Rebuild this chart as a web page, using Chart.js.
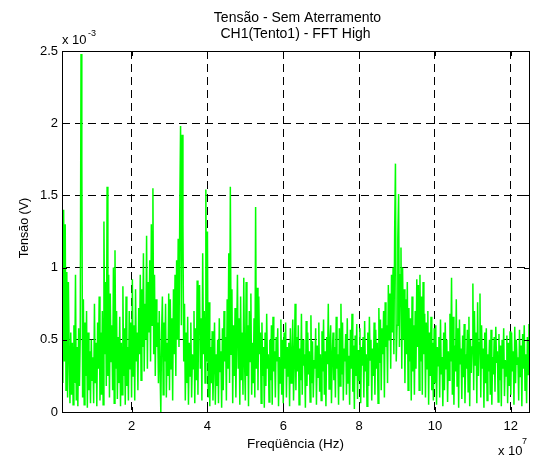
<!DOCTYPE html>
<html>
<head>
<meta charset="utf-8">
<script src="https://cdn.jsdelivr.net/npm/chart.js@4"></script>
<style>
  html, body { margin: 0; padding: 0; background: #fff; }
  #wrap { width: 536px; height: 458px; }
</style>
</head>
<body>
<div id="wrap"><canvas id="fftChart" width="536" height="458"></canvas></div>
<script>
const titleLines = ["Tensão - Sem Aterramento", "CH1(Tento1) - FFT High"];
const xLabel = "Freqüência (Hz)";
const yLabel = "Tensão (V)";
const xTicks = [2, 4, 6, 8, 10, 12];
const yTicks = [0, 0.5, 1, 1.5, 2, 2.5];

// bins de frequencia em unidades de 1e7 Hz
const freqStart = 0.1875;
const freqStep = 1 / 48;

// amplitude em unidades de 1e-3 V, uma linha de 12 bins = 0.25 x 1e7 Hz
const tensao = [
  // 0.19 - 0.98
  0.20, 1.40, 0.35, 1.30, 0.15, 0.97, 0.10, 0.90, 0.40, 0.06, 0.55, 0.12, 0.48, 0.05, 0.60,
  0.20, 0.95, 0.08, 0.45, 0.04, 0.58, 0.18, 0.52, 2.48, 1.74, 0.10, 0.78, 0.05, 0.62, 0.25,
  0.70, 0.03, 0.55, 0.15, 0.42, 0.06, 0.50, 0.22, 0.38,
  // 1.0
  0.06, 0.75, 0.20, 0.48, 0.04, 0.62, 0.30, 0.80, 0.08, 0.55, 0.12, 0.70,
  0.05, 1.32, 0.40, 0.90, 0.18, 1.56, 0.25, 0.95, 0.10, 0.82, 0.35, 0.60,
  0.15, 1.00, 0.06, 1.12, 0.30, 0.70, 0.09, 0.52, 0.20, 0.66, 0.04, 0.48,
  0.12, 0.87, 0.25, 0.58, 0.05, 0.80, 0.18, 0.45, 0.08, 0.70, 0.30, 0.62,
  // 2.0
  0.10, 0.92, 0.25, 0.60, 0.08, 0.85, 0.35, 0.55, 0.15, 0.72, 0.40, 0.95,
  0.22, 0.85, 0.45, 1.10, 0.28, 0.75, 0.50, 1.22, 0.30, 0.90, 0.55, 1.05,
  0.35, 1.30, 0.60, 1.55, 0.40, 0.95, 0.25, 0.78, 0.45, 0.62, 0.20, 0.70,
  0.30, 0.00, 0.55, 0.80, 0.12, 0.62, 0.35, 0.75, 0.10, 0.48, 0.25, 0.82,
  // 3.0
  0.15, 0.78, 0.30, 0.65, 0.08, 0.85, 0.40, 0.95, 0.25, 1.05, 0.50, 1.20,
  0.45, 1.40, 1.98, 0.60, 1.92, 1.30, 0.35, 0.75, 0.08, 0.55, 0.20, 0.66,
  0.05, 0.48, 0.25, 0.62, 0.10, 0.40, 0.30, 0.70, 0.06, 0.58, 0.22, 0.91,
  0.12, 0.75, 0.88, 0.30, 0.65, 0.08, 1.10, 0.40, 0.70, 0.20, 1.54, 0.35,
  // 4.0
  1.25, 0.10, 0.76, 0.04, 0.45, 0.20, 0.56, 0.08, 0.35, 0.62, 0.05, 0.40,
  0.18, 0.50, 0.06, 0.65, 0.28, 0.42, 0.03, 0.58, 0.15, 0.70, 0.35, 0.52,
  0.08, 0.78, 0.30, 1.10, 0.20, 1.56, 0.40, 0.85, 0.06, 0.60, 0.25, 0.72,
  0.10, 0.50, 0.95, 0.30, 0.65, 0.05, 0.80, 0.22, 0.55, 0.12, 0.93, 0.35,
  // 5.0
  0.08, 0.90, 0.25, 0.60, 0.04, 0.70, 0.35, 0.82, 0.12, 0.48, 0.20, 0.65,
  0.10, 1.42, 0.30, 0.86, 0.15, 0.80, 0.40, 0.55, 0.06, 0.62, 0.25, 0.45,
  0.03, 0.55, 0.18, 0.68, 0.30, 0.40, 0.07, 0.50, 0.22, 0.60, 0.05, 0.66,
  0.28, 0.42, 0.10, 0.52, 0.35, 0.58, 0.04, 0.38, 0.20, 0.64, 0.12, 0.50,
  // 6.0
  0.06, 0.55, 0.30, 0.62, 0.10, 0.45, 0.25, 0.48, 0.04, 0.58, 0.20, 0.38,
  0.64, 0.08, 0.35, 0.75, 0.15, 0.52, 0.28, 0.60, 0.05, 0.44, 0.22, 0.68,
  0.12, 0.50, 0.32, 0.40, 0.03, 0.63, 0.18, 0.55, 0.26, 0.42, 0.07, 0.67,
  0.20, 0.49, 0.10, 0.36, 0.30, 0.58, 0.05, 0.46, 0.24, 0.62, 0.14, 0.40,
  // 7.0
  0.08, 0.56, 0.28, 0.64, 0.12, 0.42, 0.04, 0.52, 0.33, 0.75, 0.16, 0.48,
  0.60, 0.06, 0.38, 0.55, 0.22, 0.45, 0.10, 0.66, 0.30, 0.40, 0.05, 0.58,
  0.18, 0.75, 0.26, 0.62, 0.08, 0.44, 0.35, 0.54, 0.12, 0.65, 0.20, 0.39,
  0.05, 0.57, 0.30, 0.68, 0.14, 0.46, 0.02, 0.53, 0.25, 0.61, 0.09, 0.43,
  // 8.0
  0.22, 0.58, 0.06, 0.45, 0.32, 0.52, 0.10, 0.63, 0.28, 0.40, 0.04, 0.55,
  0.18, 0.66, 0.36, 0.50, 0.08, 0.44, 0.25, 0.62, 0.12, 0.57, 0.30, 0.48,
  0.06, 0.72, 0.34, 0.64, 0.15, 0.58, 0.40, 0.70, 0.10, 0.76, 0.45, 0.60,
  0.20, 0.88, 0.50, 0.82, 0.30, 0.95, 0.55, 1.00, 0.40, 1.25, 1.72, 0.35,
  // 9.0
  0.60, 1.20, 1.51, 0.45, 0.95, 1.14, 0.30, 1.00, 0.50, 0.85, 0.20, 0.78,
  0.40, 0.90, 0.15, 0.72, 0.35, 0.65, 0.08, 0.80, 0.28, 0.60, 0.12, 0.70,
  0.30, 0.92, 0.45, 0.88, 0.15, 0.95, 0.35, 0.80, 0.12, 0.90, 0.40, 0.68,
  0.10, 0.62, 0.30, 0.70, 0.05, 0.55, 0.25, 0.66, 0.15, 0.48, 0.08, 0.58,
  // 10.0
  0.20, 0.60, 0.05, 0.45, 0.32, 0.52, 0.10, 0.64, 0.26, 0.38, 0.04, 0.55,
  0.15, 0.62, 0.30, 0.50, 0.07, 0.42, 0.22, 0.68, 0.35, 0.93, 0.12, 0.66,
  0.05, 0.46, 0.28, 0.78, 0.18, 0.58, 0.03, 0.64, 0.33, 0.44, 0.09, 0.53,
  0.24, 0.61, 0.06, 0.40, 0.30, 0.57, 0.14, 0.66, 0.04, 0.50, 0.27, 0.45,
  // 11.0
  0.89, 0.15, 0.70, 0.32, 0.55, 0.06, 0.76, 0.25, 0.48, 0.82, 0.10, 0.60,
  0.30, 0.44, 0.03, 0.55, 0.20, 0.58, 0.08, 0.40, 0.28, 0.50, 0.12, 0.57,
  0.05, 0.38, 0.26, 0.52, 0.14, 0.59, 0.34, 0.42, 0.07, 0.54, 0.22, 0.46,
  0.04, 0.50, 0.30, 0.58, 0.11, 0.36, 0.25, 0.53, 0.06, 0.48, 0.18, 0.56,
  // 12.0 - 12.48
  0.12, 0.55, 0.28, 0.42, 0.05, 0.59, 0.20, 0.50, 0.33, 0.38, 0.08, 0.57,
  0.24, 0.46, 0.04, 0.54, 0.30, 0.60, 0.15, 0.40, 0.06, 0.52, 0.26, 0.61
];

const points = tensao.map((v, i) => ({ x: freqStart + i * freqStep, y: v }));

const FONT = '"Liberation Sans", Arial, sans-serif';

// caixa do eixo, ticks internos e textos no estilo matlab
const matlabFrame = {
  id: 'matlabFrame',
  afterDatasetsDraw(chart) {
    const { ctx, chartArea: a, scales } = chart;
    ctx.save();
    ctx.strokeStyle = '#000';
    ctx.lineWidth = 1;
    ctx.strokeRect(Math.round(a.left) + 0.5, Math.round(a.top) + 0.5,
      Math.round(a.right - a.left), Math.round(a.bottom - a.top));
    ctx.beginPath();
    xTicks.forEach(t => {
      const px = Math.round(scales.x.getPixelForValue(t)) + 0.5;
      ctx.moveTo(px, a.bottom); ctx.lineTo(px, a.bottom - 5);
      ctx.moveTo(px, a.top); ctx.lineTo(px, a.top + 5);
    });
    yTicks.forEach(t => {
      const py = Math.round(scales.y.getPixelForValue(t)) + 0.5;
      ctx.moveTo(a.left, py); ctx.lineTo(a.left + 5, py);
      ctx.moveTo(a.right, py); ctx.lineTo(a.right - 5, py);
    });
    ctx.stroke();
    ctx.restore();
  },
  afterDraw(chart) {
    const { ctx, chartArea: a } = chart;
    const cx = (a.left + a.right) / 2;
    ctx.save();
    ctx.fillStyle = '#000';
    ctx.textAlign = 'center';
    ctx.textBaseline = 'alphabetic';
    ctx.font = '14px ' + FONT;
    ctx.fillText(titleLines[0], cx + 2, 22);
    ctx.fillText(titleLines[1], cx, 38);
    ctx.font = '13.5px ' + FONT;
    ctx.fillText(xLabel, cx, 448);
    ctx.save();
    ctx.translate(28, 228);
    ctx.rotate(-Math.PI / 2);
    ctx.font = '12.5px ' + FONT;
    ctx.fillText(yLabel, 0, 0);
    ctx.restore();
    ctx.textAlign = 'left';
    ctx.font = '13px ' + FONT;
    ctx.fillText('x 10', 62, 44);
    ctx.fillText('x 10', 498, 455);
    ctx.font = '9px ' + FONT;
    ctx.fillText('-3', 88, 36);
    ctx.fillText('7', 522, 444);
    ctx.restore();
  }
};

new Chart(document.getElementById('fftChart'), {
  type: 'line',
  data: {
    datasets: [{
      data: points,
      borderColor: '#00ff00',
      borderWidth: 1.5,
      pointRadius: 0,
      tension: 0,
      fill: false
    }]
  },
  options: {
    responsive: false,
    animation: false,
    events: [],
    layout: { padding: { top: 51, right: 7, left: 0, bottom: 0 } },
    plugins: { legend: { display: false }, tooltip: { enabled: false }, title: { display: false } },
    scales: {
      x: {
        type: 'linear',
        min: 0.165,
        max: 12.48,
        afterBuildTicks: s => { s.ticks = xTicks.map(v => ({ value: v })); },
        afterFit: s => { s.height = 46; },
        grid: { color: '#000', lineWidth: 1, drawTicks: false },
        border: { display: false, dash: [8, 5] },
        ticks: { color: '#000', font: { family: FONT, size: 13 }, padding: 7, maxRotation: 0,
          callback: v => String(v) }
      },
      y: {
        min: 0,
        max: 2.5,
        afterBuildTicks: s => { s.ticks = yTicks.map(v => ({ value: v })); },
        afterFit: s => { s.width = 62; },
        grid: { color: '#000', lineWidth: 1, drawTicks: false },
        border: { display: false, dash: [8, 5] },
        ticks: { color: '#000', font: { family: FONT, size: 13 }, padding: 4,
          callback: v => String(v) }
      }
    }
  },
  plugins: [matlabFrame]
});
</script>
</body>
</html>
